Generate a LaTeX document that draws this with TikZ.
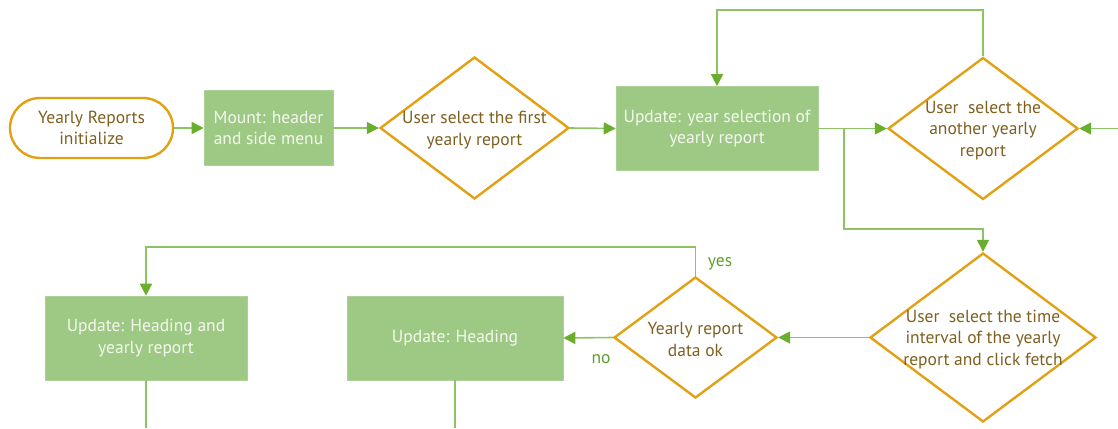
\documentclass[tikz,border=0pt]{standalone}
\usepackage{fontspec}
\setmainfont{PT Sans}
\usetikzlibrary{shapes.geometric,arrows.meta}
\definecolor{lgreen}{HTML}{8CC464}
\definecolor{agreen}{HTML}{6AAE2E}
\definecolor{bfill}{HTML}{9DC985}
\definecolor{orng}{HTML}{E2A114}
\definecolor{dtxt}{HTML}{7F6020}
\definecolor{btxt}{HTML}{F4F8EE}
\definecolor{ltxt}{HTML}{5E9E2E}
\tikzset{
  txt/.style={font=\fontsize{17.5}{21.5}\selectfont, align=center},
  box/.style={txt, rectangle, fill=bfill, draw=bfill!85!white, line width=0.6pt, text=btxt, inner sep=0pt},
  term/.style={txt, rectangle, rounded corners=30pt, draw=orng, line width=2.4pt, fill=white, text=dtxt, inner sep=0pt},
  dia/.style={diamond, draw=orng, line width=2.4pt, inner sep=0pt, fill=white},
  dtext/.style={txt, text=dtxt, inner sep=0pt, yshift=-2pt},
  conn/.style={draw=lgreen, line width=1.6pt},
  arr/.style={conn, -{Triangle[length=12pt, width=12pt, color=agreen]}},
  lbl/.style={font=\fontsize{17.5}{20}\selectfont, text=ltxt},
}
\begin{document}
\begin{tikzpicture}[x=1pt, y=-1pt]
\useasboundingbox (0,0) rectangle (1118,428);
% nodes
\node[term, minimum width=163pt, minimum height=60pt] (start) at (91.5,128) {Yearly Reports\\initialize};
\node[box, minimum width=129pt, minimum height=75pt] (mount) at (268.5,128) {Mount: header\\and side menu};
\node[dia, minimum width=189pt, minimum height=142pt, label={[dtext]center:User select the first\\yearly report}] (d1) at (474.5,128) {};
\node[box, minimum width=202pt, minimum height=84pt] (upd) at (717,128.5) {Update: year selection of\\yearly report};
\node[dia, minimum width=190pt, minimum height=142pt, label={[dtext]center:User~ select the\\another yearly\\report}] (d2) at (983,128.5) {};
\node[dia, minimum width=226pt, minimum height=169pt, label={[dtext]center:User~ select the time\\interval of the yearly\\report and click fetch}] (d3) at (983,337.5) {};
\node[dia, minimum width=163pt, minimum height=121pt, label={[dtext]center:Yearly report\\data ok}] (d4) at (695.5,337.5) {};
\node[box, minimum width=202pt, minimum height=84pt] (hb) at (146,338) {Update: Heading and\\yearly report};
\node[box, minimum width=216pt, minimum height=84pt] (hd) at (455,338) {Update: Heading};
\node[lbl] (yes) at (720,264) {yes};
\node[lbl] (no) at (601,359) {no};
% helper coordinates
\coordinate (br) at (844,128.5);
\coordinate (bk) at (844,229);
\coordinate (lp) at (0,10);
\coordinate (yy) at (0,247);
\coordinate (rin) at (1118,128.5);
\coordinate (bot) at (0,428);
% connectors
\draw[arr] (start.east) -- (mount.west);
\draw[arr] (mount.east) -- (d1.west);
\draw[arr] (d1.east) -- (upd.west);
\draw[arr] (upd.east) -- (d2.west);
\draw[arr] (br) -- (bk) -| (d3.north);
\draw[arr] (d2.north) -- (d2.north |- lp) -| (upd.north);
\draw[arr] (rin) -- (d2.east);
\draw[arr] (d3.west) -- (d4.east);
\draw[arr] (d4.west) -- (hd.east);
\draw[arr] (d4.north) -- (d4.north |- yy) -| (hb.north);
\draw[conn] (hb.south) -- (hb.south |- bot);
\draw[conn] (hd.south) -- (hd.south |- bot);
\end{tikzpicture}
\end{document}
